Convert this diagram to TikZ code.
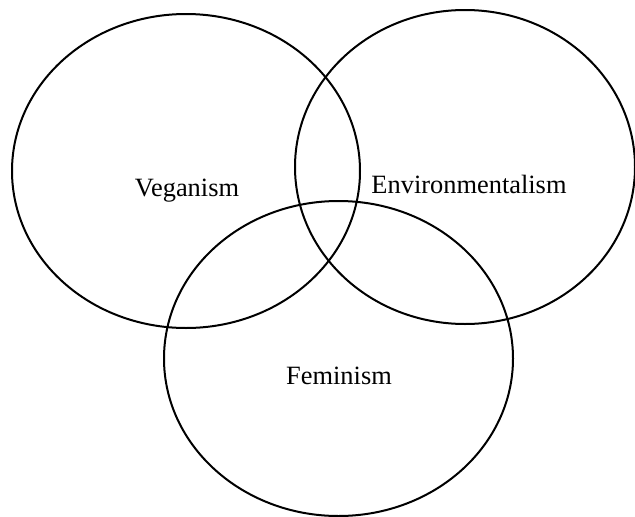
\documentclass[tikz,border=0pt]{standalone}
\usepackage{fontspec}
\setmainfont{Liberation Serif}
\usepackage{tikz}
\usetikzlibrary{calc}

\begin{document}
\begin{tikzpicture}[x=1pt,y=-1pt]
	% Frame
	\useasboundingbox (0,0) rectangle (635,517);
	% Centres
	\coordinate (V) at (186,171);
	\coordinate (E) at (465,167);
	\coordinate (F) at (338.5,358.5);
	% Sets
	\draw[line width=2pt] (V) ellipse (174pt and 157pt);
	\draw[line width=2pt] (E) ellipse (170pt and 157pt);
	\draw[line width=2pt] (F) ellipse (174.5pt and 157.5pt);
	% Labels
	\node[anchor=base,inner sep=0pt,font=\fontsize{26.4}{30}\selectfont] (vegan) at (187,196.5) {Veganism};
	\node[anchor=base,inner sep=0pt,font=\fontsize{26.4}{30}\selectfont] (envir) at (469,193) {Environmentalism};
	\node[anchor=base,inner sep=0pt,font=\fontsize{26.4}{30}\selectfont] (femin) at (339,384) {Feminism};
\end{tikzpicture}
\end{document}
